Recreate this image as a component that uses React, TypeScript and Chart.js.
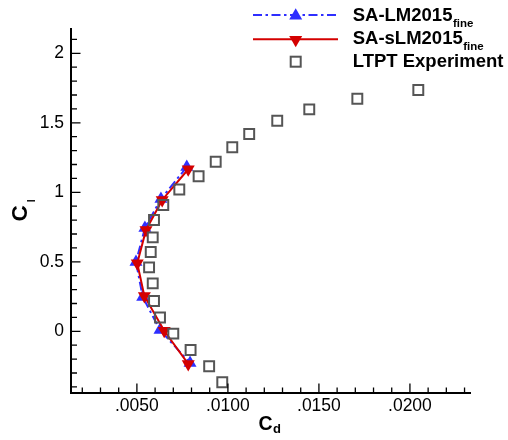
import React, { useEffect, useRef } from 'react';
import { Chart, registerables } from 'chart.js';

Chart.register(...registerables);

// SA-LM2015 (fine) — blue, dash-dot, up triangles
const lmCd = [0.00774, 0.00632, 0.00544, 0.00495, 0.00532, 0.00627, 0.00792];
const lmCl = [1.182, 0.952, 0.743, 0.499, 0.247, 0.009, -0.228];
// SA-sLM2015 (fine) — red, solid, down triangles
const slmCd = [0.00782, 0.00639, 0.0055, 0.00502, 0.00541, 0.0065, 0.00782];
const slmCl = [1.166, 0.945, 0.729, 0.489, 0.254, 0.004, -0.235];
// LTPT Experiment — gray hollow squares
const expCd = [0.02046, 0.01711, 0.01447, 0.01271, 0.01117, 0.01024, 0.00933, 0.00839, 0.00733, 0.00645, 0.00594,
  0.00587, 0.00576, 0.00567, 0.00587, 0.00594, 0.00627, 0.007, 0.00795, 0.00897, 0.00969];
const expCl = [1.736, 1.673, 1.597, 1.515, 1.419, 1.324, 1.22, 1.116, 1.02, 0.909, 0.801,
  0.676, 0.571, 0.46, 0.345, 0.218, 0.099, -0.017, -0.135, -0.252, -0.367];

const xMajor = [0.005, 0.01, 0.015, 0.02];
const xMinor = [0.002, 0.003, 0.004, 0.006, 0.007, 0.008, 0.009, 0.011, 0.012, 0.013, 0.014,
  0.016, 0.017, 0.018, 0.019, 0.021, 0.022, 0.023];
const yMajor = [0, 0.5, 1, 1.5, 2];
const yMinor = [-0.4, -0.3, -0.2, -0.1, 0.1, 0.2, 0.3, 0.4, 0.6, 0.7, 0.8, 0.9, 1.1, 1.2, 1.3, 1.4,
  1.6, 1.7, 1.8, 1.9, 2.1];

const legendNames = ['SA-LM2015', 'SA-sLM2015', 'LTPT Experiment'];
const legendSubs = ['fine', 'fine', ''];

const BLUE = '#2e2eff';
const RED = '#d40000';
const GRAY = '#555555';
const FONT = '"Liberation Sans", Arial, Helvetica, sans-serif';

const toPts = (xs: number[], ys: number[]) => xs.map((x, i) => ({ x, y: ys[i] }));

function tri(ctx: CanvasRenderingContext2D, x: number, y: number, r: number, down: boolean) {
  const s = down ? -1 : 1;
  ctx.beginPath();
  ctx.moveTo(x, y - s * r);
  ctx.lineTo(x + 0.866 * r, y + s * 0.5 * r);
  ctx.lineTo(x - 0.866 * r, y + s * 0.5 * r);
  ctx.closePath();
}

const decorPlugin = {
  id: 'decor',
  afterDraw(chart: any) {
    const ctx: CanvasRenderingContext2D = chart.ctx;
    const { left, bottom } = chart.chartArea;
    const xs = chart.scales.x;
    const ys = chart.scales.y;
    ctx.save();
    // inward ticks
    ctx.strokeStyle = '#000';
    ctx.lineWidth = 1.3;
    ctx.beginPath();
    yMajor.forEach((v) => { const p = ys.getPixelForValue(v); ctx.moveTo(left, p); ctx.lineTo(left + 9.5, p); });
    yMinor.forEach((v) => { const p = ys.getPixelForValue(v); ctx.moveTo(left, p); ctx.lineTo(left + 6, p); });
    xMajor.forEach((v) => { const p = xs.getPixelForValue(v); ctx.moveTo(p, bottom); ctx.lineTo(p, bottom - 9.5); });
    xMinor.forEach((v) => { const p = xs.getPixelForValue(v); ctx.moveTo(p, bottom); ctx.lineTo(p, bottom - 5.5); });
    ctx.stroke();

    // axis titles
    ctx.fillStyle = '#000';
    ctx.textBaseline = 'alphabetic';
    ctx.textAlign = 'left';
    ctx.font = `bold 19.5px ${FONT}`;
    ctx.fillText('C', 258.5, 429.5);
    const cw = ctx.measureText('C').width;
    ctx.font = `bold 13px ${FONT}`;
    ctx.fillText('d', 258.5 + cw + 0.5, 433);

    ctx.save();
    ctx.translate(27, 221.5);
    ctx.rotate(-Math.PI / 2);
    ctx.font = `bold 22.5px ${FONT}`;
    ctx.fillText('C', 0, 0);
    const cw2 = ctx.measureText('C').width;
    ctx.font = `bold 10.5px ${FONT}`;
    ctx.fillText('l', cw2 + 3, 8);
    ctx.restore();

    // legend
    const rows = [15, 39.3, 61.7];
    const baselines = [20.7, 44, 66.7];
    const lx0 = 253, lx1 = 338, mx = 295.7, tx = 352.7;
    // row 1: blue dash-dot
    ctx.strokeStyle = BLUE;
    ctx.lineWidth = 2;
    ctx.setLineDash([9, 3.5, 2.5, 3.5]);
    ctx.beginPath(); ctx.moveTo(lx0, rows[0]); ctx.lineTo(lx1, rows[0]); ctx.stroke();
    ctx.setLineDash([]);
    ctx.fillStyle = BLUE;
    tri(ctx, mx, rows[0] + 0.8, 7.5, false); ctx.fill();
    // row 2: red solid
    ctx.strokeStyle = RED;
    ctx.beginPath(); ctx.moveTo(lx0, rows[1]); ctx.lineTo(lx1, rows[1]); ctx.stroke();
    ctx.fillStyle = RED;
    tri(ctx, mx, rows[1] + 0.5, 7.5, true); ctx.fill();
    // row 3: square
    ctx.strokeStyle = GRAY;
    ctx.lineWidth = 2;
    ctx.strokeRect(mx - 5, rows[2] - 5, 10, 10);

    ctx.fillStyle = '#000';
    legendNames.forEach((name, i) => {
      ctx.font = `bold 18.5px ${FONT}`;
      ctx.fillText(name, tx, baselines[i]);
      if (legendSubs[i]) {
        const w = ctx.measureText(name).width;
        ctx.font = `bold 11.5px ${FONT}`;
        ctx.fillText(legendSubs[i], tx + w + 0.5, baselines[i] + 5.8);
      }
    });
    ctx.restore();
  },
};

export default function App() {
  const ref = useRef<HTMLCanvasElement | null>(null);
  useEffect(() => {
    if (!ref.current) return;
    const chart = new Chart(ref.current, {
      type: 'scatter',
      data: {
        datasets: [
          {
            label: 'LTPT Experiment',
            data: toPts(expCd, expCl),
            showLine: false,
            pointStyle: 'rect',
            pointRadius: 7,
            pointBorderWidth: 2,
            pointBorderColor: GRAY,
            pointBackgroundColor: 'rgba(0,0,0,0)',
          },
          {
            label: 'SA-sLM2015 fine',
            data: toPts(slmCd, slmCl),
            showLine: true,
            borderColor: RED,
            borderWidth: 2,
            pointStyle: 'triangle',
            pointRotation: 180,
            pointRadius: 7.5,
            pointBorderWidth: 0,
            pointBackgroundColor: RED,
            pointBorderColor: RED,
          },
          {
            label: 'SA-LM2015 fine',
            data: toPts(lmCd, lmCl),
            showLine: true,
            borderColor: BLUE,
            borderWidth: 2,
            borderDash: [9, 3.5, 2.5, 3.5],
            pointStyle: 'triangle',
            pointRadius: 7.5,
            pointBorderWidth: 0,
            pointBackgroundColor: BLUE,
            pointBorderColor: BLUE,
          },
        ],
      },
      options: {
        animation: false,
        responsive: false,
        maintainAspectRatio: false,
        layout: { padding: { top: 29, right: 38, left: 0, bottom: 0 } },
        plugins: { legend: { display: false }, tooltip: { enabled: false } },
        scales: {
          x: {
            type: 'linear',
            min: 0.00138,
            max: 0.0233,
            grid: { display: false, drawTicks: false },
            border: { display: true, color: '#000', width: 2 },
            afterBuildTicks: (s: any) => { s.ticks = xMajor.map((value) => ({ value })); },
            afterFit: (s: any) => { s.height = 47; },
            ticks: {
              padding: 3,
              color: '#000',
              font: { family: FONT, size: 17.5 },
              maxRotation: 0,
              autoSkip: false,
              callback: (v: any) => '.' + Number(v).toFixed(4).split('.')[1],
            },
          },
          y: {
            type: 'linear',
            min: -0.444,
            max: 2.175,
            grid: { display: false, drawTicks: false },
            border: { display: true, color: '#000', width: 2 },
            afterBuildTicks: (s: any) => { s.ticks = yMajor.map((value) => ({ value })); },
            afterFit: (s: any) => { s.width = 71; },
            ticks: {
              padding: 7,
              color: '#000',
              font: { family: FONT, size: 17.5 },
              autoSkip: false,
              callback: (v: any) => String(v),
            },
          },
        },
      },
      plugins: [decorPlugin],
    } as any);
    return () => chart.destroy();
  }, []);
  return (
    <div style={{ position: 'absolute', left: 0, top: 0, width: 508, height: 440, background: '#fff' }}>
      <canvas ref={ref} width={508} height={440} style={{ width: 508, height: 440, display: 'block' }} />
    </div>
  );
}
